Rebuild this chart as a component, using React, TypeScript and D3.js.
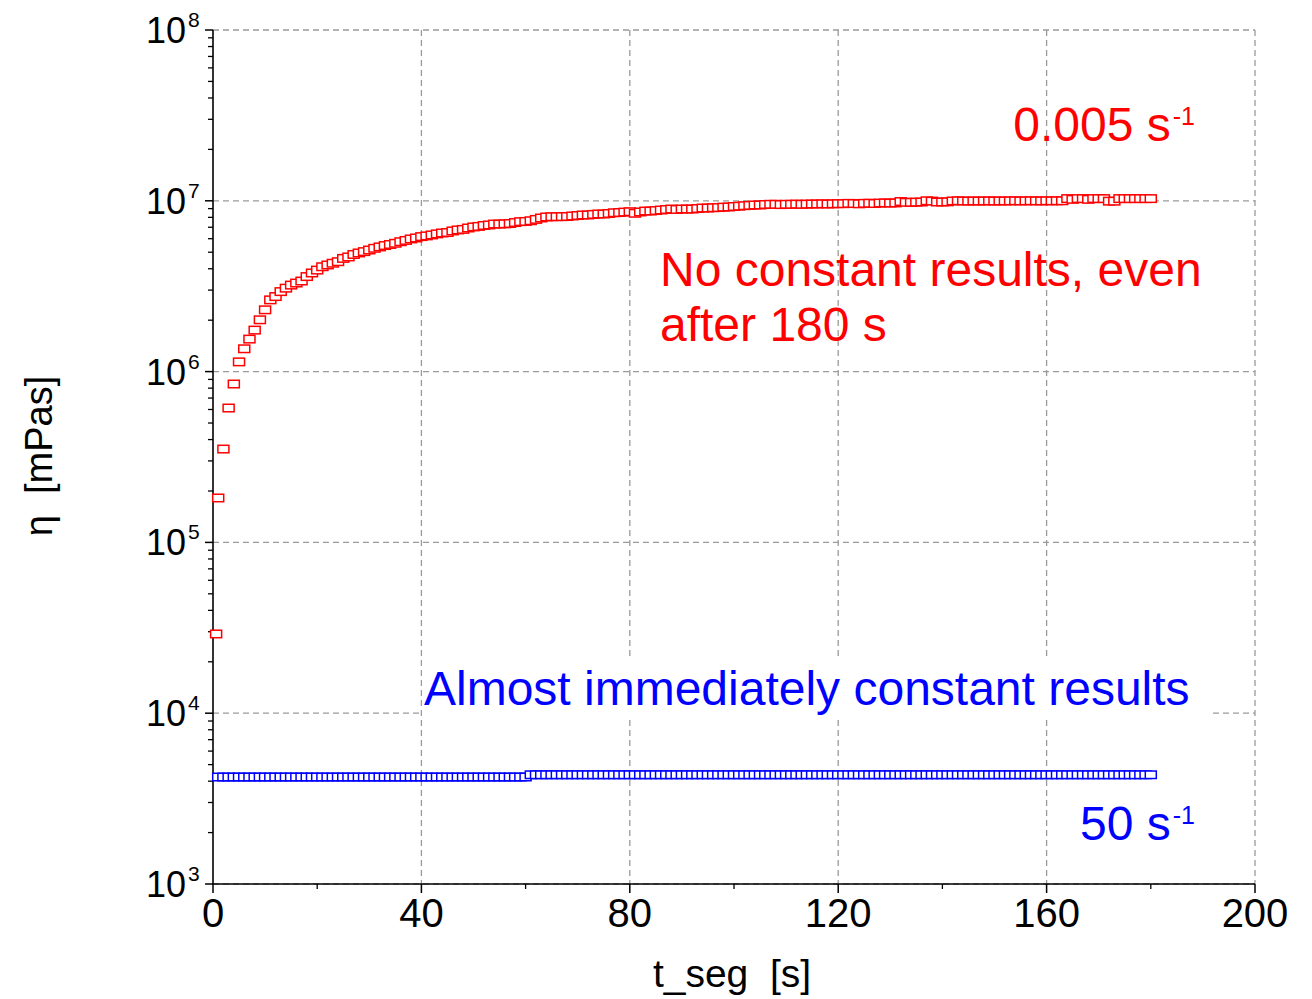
import React from 'react';
import * as d3 from 'd3';

// Measuring times of the time sweep segment, in seconds (1 s sampling)
const sampleTimes = [
  1, 2, 3, 4, 5, 6, 7, 8, 9, 10, 11, 12, 13, 14, 15, 16, 17, 18, 19, 20,
  21, 22, 23, 24, 25, 26, 27, 28, 29, 30, 31, 32, 33, 34, 35, 36, 37, 38, 39, 40,
  41, 42, 43, 44, 45, 46, 47, 48, 49, 50, 51, 52, 53, 54, 55, 56, 57, 58, 59, 60,
  61, 62, 63, 64, 65, 66, 67, 68, 69, 70, 71, 72, 73, 74, 75, 76, 77, 78, 79, 80,
  81, 82, 83, 84, 85, 86, 87, 88, 89, 90, 91, 92, 93, 94, 95, 96, 97, 98, 99, 100,
  101, 102, 103, 104, 105, 106, 107, 108, 109, 110, 111, 112, 113, 114, 115, 116, 117, 118, 119, 120,
  121, 122, 123, 124, 125, 126, 127, 128, 129, 130, 131, 132, 133, 134, 135, 136, 137, 138, 139, 140,
  141, 142, 143, 144, 145, 146, 147, 148, 149, 150, 151, 152, 153, 154, 155, 156, 157, 158, 159, 160,
  161, 162, 163, 164, 165, 166, 167, 168, 169, 170, 171, 172, 173, 174, 175, 176, 177, 178, 179, 180,
];

// Shear rate 0.005 1/s: first reading taken before the 1 s grid starts
const lowRateStart = { t: 0.6, eta: 2.91e4 };
// Viscosity η [mPas] at 0.005 1/s, one value per sample time
const lowRateEta = [
  1.82e5, 3.52e5, 6.12e5, 8.46e5, 1.14e6, 1.36e6, 1.55e6, 1.75e6, 2.01e6, 2.30e6,
  2.63e6, 2.75e6, 2.94e6, 3.08e6, 3.21e6, 3.30e6, 3.39e6, 3.60e6, 3.78e6, 3.93e6,
  4.11e6, 4.21e6, 4.31e6, 4.40e6, 4.60e6, 4.69e6, 4.85e6, 4.95e6, 5.04e6, 5.15e6,
  5.27e6, 5.37e6, 5.47e6, 5.55e6, 5.64e6, 5.76e6, 5.86e6, 5.98e6, 6.06e6, 6.17e6,
  6.23e6, 6.31e6, 6.40e6, 6.48e6, 6.52e6, 6.66e6, 6.75e6, 6.80e6, 6.93e6, 7.03e6,
  7.08e6, 7.17e6, 7.22e6, 7.31e6, 7.31e6, 7.33e6, 7.36e6, 7.46e6, 7.55e6, 7.57e6,
  7.64e6, 7.78e6, 7.93e6, 8.04e6, 8.07e6, 8.07e6, 8.08e6, 8.09e6, 8.15e6, 8.20e6,
  8.26e6, 8.26e6, 8.32e6, 8.37e6, 8.37e6, 8.43e6, 8.51e6, 8.54e6, 8.59e6, 8.63e6,
  8.45e6, 8.60e6, 8.71e6, 8.71e6, 8.77e6, 8.83e6, 8.89e6, 8.95e6, 8.90e6, 8.95e6,
  8.95e6, 8.95e6, 9.01e6, 9.07e6, 9.07e6, 9.11e6, 9.13e6, 9.18e6, 9.20e6, 9.26e6,
  9.30e6, 9.36e6, 9.40e6, 9.45e6, 9.45e6, 9.51e6, 9.54e6, 9.54e6, 9.50e6, 9.54e6,
  9.54e6, 9.56e6, 9.54e6, 9.56e6, 9.58e6, 9.58e6, 9.60e6, 9.58e6, 9.60e6, 9.62e6,
  9.62e6, 9.66e6, 9.64e6, 9.60e6, 9.66e6, 9.68e6, 9.64e6, 9.70e6, 9.72e6, 9.70e6,
  9.72e6, 9.90e6, 9.80e6, 9.80e6, 9.82e6, 9.84e6, 1.00e7, 9.96e6, 9.84e6, 9.84e6,
  9.86e6, 9.98e6, 1.00e7, 9.98e6, 9.96e6, 9.98e6, 9.97e6, 9.98e6, 9.99e6, 9.97e6,
  9.98e6, 9.98e6, 9.99e6, 1.00e7, 9.98e6, 9.99e6, 1.00e7, 9.99e6, 9.98e6, 1.00e7,
  9.99e6, 1.00e7, 1.00e7, 1.03e7, 1.02e7, 1.03e7, 1.03e7, 1.02e7, 1.03e7, 1.03e7,
  1.03e7, 9.95e6, 9.95e6, 1.03e7, 1.03e7, 1.03e7, 1.03e7, 1.03e7, 1.03e7, 1.03e7,
];

// Viscosity η [mPas] at 50 1/s, one value per sample time
const highRateEta = [
  4230, 4230, 4230, 4230, 4230, 4230, 4230, 4230, 4230, 4230, 4230, 4230, 4230, 4230, 4230, 4230, 4230, 4230, 4230, 4230,
  4230, 4230, 4230, 4230, 4230, 4230, 4230, 4230, 4230, 4230, 4230, 4230, 4230, 4230, 4230, 4230, 4230, 4230, 4230, 4230,
  4230, 4230, 4230, 4230, 4230, 4230, 4230, 4230, 4230, 4230, 4230, 4230, 4230, 4230, 4230, 4230, 4230, 4230, 4230, 4230,
  4360, 4360, 4360, 4360, 4360, 4360, 4360, 4360, 4360, 4360, 4360, 4360, 4360, 4360, 4360, 4360, 4360, 4360, 4360, 4360,
  4360, 4360, 4360, 4360, 4360, 4360, 4360, 4360, 4360, 4360, 4360, 4360, 4360, 4360, 4360, 4360, 4360, 4360, 4360, 4360,
  4360, 4360, 4360, 4360, 4360, 4360, 4360, 4360, 4360, 4360, 4360, 4360, 4360, 4360, 4360, 4360, 4360, 4360, 4360, 4360,
  4360, 4360, 4360, 4360, 4360, 4360, 4360, 4360, 4360, 4360, 4360, 4360, 4360, 4360, 4360, 4360, 4360, 4360, 4360, 4360,
  4360, 4360, 4360, 4360, 4360, 4360, 4360, 4360, 4360, 4360, 4360, 4360, 4360, 4360, 4360, 4360, 4360, 4360, 4360, 4360,
  4360, 4360, 4360, 4360, 4360, 4360, 4360, 4360, 4360, 4360, 4360, 4360, 4360, 4360, 4360, 4360, 4360, 4360, 4360, 4360,
];

const xMajorTicks = [0, 40, 80, 120, 160, 200];
const xMinorTicks = [20, 60, 100, 140, 180];
const yDecadeExponents = [3, 4, 5, 6, 7, 8];
const yMinorMultipliers = [2, 3, 4, 5, 6, 7, 8, 9];

const RED = '#ff0000';
const BLUE = '#0000ff';
const FONT = '"Liberation Sans", Arial, Helvetica, sans-serif';

const W = 1312;
const H = 999;
const LEFT = 213;
const RIGHT = 1255;
const TOP = 30;
const BOTTOM = 884;

const MARK_W = 11;
const MARK_H = 7.5;

export default function App() {
  const x = d3.scaleLinear().domain([0, 200]).range([LEFT, RIGHT]);
  const y = d3.scaleLog().domain([1e3, 1e8]).range([BOTTOM, TOP]);

  const lowRatePoints = [
    { t: lowRateStart.t, eta: lowRateStart.eta },
    ...sampleTimes.map((t, i) => ({ t, eta: lowRateEta[i] })),
  ];
  const highRatePoints = sampleTimes.map((t, i) => ({ t, eta: highRateEta[i] }));

  const minorY: number[] = [];
  yDecadeExponents.slice(0, -1).forEach((e) =>
    yMinorMultipliers.forEach((m) => minorY.push(m * Math.pow(10, e)))
  );

  const gridStyle = { stroke: '#9a9a9a', strokeWidth: 1.3, strokeDasharray: '6,4', fill: 'none' };

  const marker = (p: { t: number; eta: number }, color: string, key: string) => (
    <rect
      key={key}
      x={x(p.t) - MARK_W / 2}
      y={y(p.eta) - MARK_H / 2}
      width={MARK_W}
      height={MARK_H}
      fill="#ffffff"
      stroke={color}
      strokeWidth={1.5}
    />
  );

  return (
    <svg
      width={W}
      height={H}
      viewBox={`0 0 ${W} ${H}`}
      style={{ position: 'absolute', left: 0, top: 0, background: '#ffffff' }}
      fontFamily={FONT}
    >
      <rect x={0} y={0} width={W} height={H} fill="#ffffff" />

      {/* dashed grid */}
      {yDecadeExponents.map((e) => (
        <line key={`gy${e}`} x1={LEFT} x2={RIGHT} y1={y(Math.pow(10, e))} y2={y(Math.pow(10, e))} style={gridStyle} />
      ))}
      {xMajorTicks.filter((v) => v > 0).map((v) => (
        <line key={`gx${v}`} x1={x(v)} x2={x(v)} y1={TOP} y2={BOTTOM} style={gridStyle} />
      ))}

      {/* y axis */}
      <line x1={LEFT} x2={LEFT} y1={TOP} y2={BOTTOM} stroke="#000" strokeWidth={1.6} />
      {yDecadeExponents.map((e) => (
        <line key={`ty${e}`} x1={LEFT - 8} x2={LEFT} y1={y(Math.pow(10, e))} y2={y(Math.pow(10, e))} stroke="#000" strokeWidth={1.5} />
      ))}
      {minorY.map((v) => (
        <line key={`my${v}`} x1={LEFT - 5} x2={LEFT} y1={y(v)} y2={y(v)} stroke="#000" strokeWidth={1.3} />
      ))}
      {yDecadeExponents.map((e) => (
        <g key={`ly${e}`}>
          <text x={186} y={y(Math.pow(10, e)) + 13} fontSize={36} textAnchor="end" fill="#000">
            10
          </text>
          <text x={188} y={y(Math.pow(10, e)) - 3} fontSize={21} fill="#000">
            {e}
          </text>
        </g>
      ))}

      {/* x axis */}
      <line x1={LEFT} x2={RIGHT} y1={BOTTOM} y2={BOTTOM} stroke="#000" strokeWidth={1.6} />
      {xMajorTicks.map((v) => (
        <line key={`tx${v}`} x1={x(v)} x2={x(v)} y1={BOTTOM} y2={BOTTOM + 9} stroke="#000" strokeWidth={1.5} />
      ))}
      {xMinorTicks.map((v) => (
        <line key={`mx${v}`} x1={x(v)} x2={x(v)} y1={BOTTOM} y2={BOTTOM + 5} stroke="#000" strokeWidth={1.3} />
      ))}
      {xMajorTicks.map((v) => (
        <text key={`lx${v}`} x={x(v)} y={927} fontSize={40} textAnchor="middle" fill="#000">
          {v}
        </text>
      ))}

      {/* axis titles */}
      <text x={732} y={987} fontSize={39} textAnchor="middle" fill="#000" style={{ whiteSpace: 'pre' }}>
        {'t_seg  [s]'}
      </text>
      <text
        transform="translate(52,456) rotate(-90)"
        fontSize={38}
        textAnchor="middle"
        fill="#000"
        style={{ whiteSpace: 'pre' }}
      >
        {'η  [mPas]'}
      </text>

      {/* measured series */}
      <g>{highRatePoints.map((p, i) => marker(p, BLUE, `hb${i}`))}</g>
      <g>{lowRatePoints.map((p, i) => marker(p, RED, `lr${i}`))}</g>

      {/* annotations */}
      <text x={1195} y={141} fontSize={48} textAnchor="end" fill={RED}>
        0.005 s
        <tspan fontSize={25} dx={2} dy={-16}>-1</tspan>
      </text>
      <text x={660} y={286} fontSize={48} fill={RED}>
        No constant results, even
      </text>
      <text x={660} y={341} fontSize={48} fill={RED}>
        after 180 s
      </text>

      <rect x={422} y={660} width={787} height={56} fill="#ffffff" />
      <text x={424} y={705} fontSize={48} fill={BLUE}>
        Almost immediately constant results
      </text>
      <text x={1195} y={840} fontSize={48} textAnchor="end" fill={BLUE}>
        50 s
        <tspan fontSize={25} dx={2} dy={-16}>-1</tspan>
      </text>
    </svg>
  );
}
